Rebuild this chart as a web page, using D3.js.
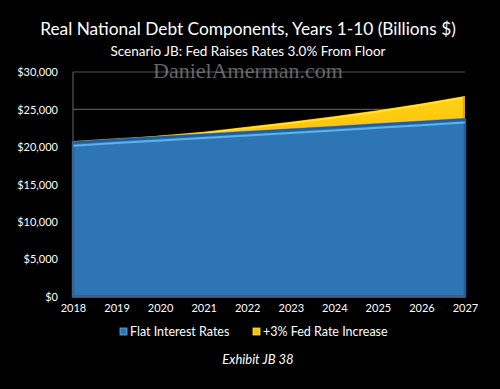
<!DOCTYPE html>
<html><head><meta charset="utf-8">
<script src="https://cdn.jsdelivr.net/npm/d3@7"></script>
<style>html,body{margin:0;padding:0;background:#000;}svg{display:block;}</style>
</head><body>
<svg id="c" width="500" height="389"></svg>
<script>
const years = [2018,2019,2020,2021,2022,2023,2024,2025,2026,2027];
const flatRates = [20550,20900,21250,21580,21920,22260,22600,22950,23300,23650];
const fedIncrease = [0,80,250,450,750,1100,1500,1950,2500,3150];
const yTicks = [0,5000,10000,15000,20000,25000,30000];
const seriesNames = ["Flat Interest Rates","+3% Fed Rate Increase"];
const titleText = "Real National Debt Components, Years 1-10 (Billions $)";
const subtitleText = "Scenario JB:  Fed Raises Rates 3.0% From Floor";
const watermark = "DanielAmerman.com";
const exhibit = "Exhibit JB 38";

const svg = d3.select("#c");
const font = "Lato, 'Open Sans', sans-serif";
svg.append("rect").attr("width",500).attr("height",389).attr("fill","#000");

const x = d3.scalePoint().domain(years).range([73,465]);
const y = d3.scaleLinear().domain([0,30000]).range([296.5,72]);

const defs = svg.append("defs");
const gy = defs.append("linearGradient").attr("id","gy").attr("x1",0).attr("y1",0).attr("x2",0).attr("y2",1);
gy.append("stop").attr("offset","0%").attr("stop-color","#FFD21A");
gy.append("stop").attr("offset","100%").attr("stop-color","#FFC000");

// gridlines
svg.append("g").selectAll("line").data(yTicks.filter(d=>d>0)).join("line")
  .attr("x1",x(2018)).attr("x2",x(2027)).attr("y1",d=>y(d)).attr("y2",d=>y(d))
  .attr("stroke","#555").attr("stroke-width",1.2);

const data = years.map((yr,i)=>({yr, a:flatRates[i], b:flatRates[i]+fedIncrease[i]}));

// yellow area
svg.append("path").datum(data)
  .attr("d", d3.area().x(d=>x(d.yr)).y0(d=>y(d.a)).y1(d=>y(d.b)))
  .attr("fill","url(#gy)");
svg.append("path").datum(data)
  .attr("d", d3.line().x(d=>x(d.yr)).y(d=>y(d.b)+1.5))
  .attr("fill","none").attr("stroke","#FFE24A").attr("stroke-width",1.5);
svg.append("path").datum(data)
  .attr("d", d3.line().x(d=>x(d.yr)).y(d=>y(d.a)-1))
  .attr("fill","none").attr("stroke","#D99A00").attr("stroke-width",1.5);
svg.append("line").attr("x1",x(2027)-1).attr("x2",x(2027)-1)
  .attr("y1",y(data[9].b)).attr("y2",y(data[9].a))
  .attr("stroke","#E0A300").attr("stroke-width",2);

// blue area
svg.append("path").datum(data)
  .attr("d", d3.area().x(d=>x(d.yr)).y0(y(0)).y1(d=>y(d.a)))
  .attr("fill","#2E75B6").attr("stroke","#1E5E9E").attr("stroke-width",2.5);
svg.append("path").datum(data)
  .attr("d", d3.line().x(d=>x(d.yr)).y(d=>y(d.a)+3))
  .attr("fill","none").attr("stroke","#5DB2EA").attr("stroke-width",2);

// axes
svg.append("line").attr("x1",x(2018)).attr("x2",x(2018)).attr("y1",y(30000)).attr("y2",y(0))
  .attr("stroke","#666").attr("stroke-width",1);
svg.append("line").attr("x1",x(2018)).attr("x2",x(2027)).attr("y1",y(0)+0.5).attr("y2",y(0)+0.5)
  .attr("stroke","#666").attr("stroke-width",1);

const yAxis = d3.axisLeft(y).tickValues(yTicks).tickSize(0).tickPadding(15)
  .tickFormat(d=>"$"+d3.format(",")(d));
const gY = svg.append("g").attr("transform",`translate(${x(2018)},0)`).call(yAxis);
gY.select(".domain").remove();
gY.selectAll("text").attr("fill","#fff").attr("font-family",font).attr("font-size",11).attr("dy","0.35em");

const xAxis = d3.axisBottom(x).tickSize(0).tickPadding(8).tickFormat(d3.format("d"));
const gX = svg.append("g").attr("transform",`translate(0,${y(0)})`).call(xAxis);
gX.select(".domain").remove();
gX.selectAll("text").attr("fill","#fff").attr("font-family",font).attr("font-size",11);

// titles
svg.append("text").attr("x",248).attr("y",35).attr("text-anchor","middle")
  .attr("fill","#fff").attr("font-family",font).attr("font-size",17.3).text(titleText);
svg.append("text").attr("x",248).attr("y",56).attr("text-anchor","middle")
  .attr("fill","#fff").attr("font-family",font).attr("font-size",13.5).text(subtitleText);
svg.append("text").attr("x",248).attr("y",78).attr("text-anchor","middle")
  .attr("fill","#888").attr("fill-opacity",0.75).attr("font-family","'Liberation Serif','DejaVu Serif',serif")
  .attr("font-size",22).text(watermark);

// legend
const legend = [
  {name:seriesNames[0], color:"#2E75B6", edge:"#5DB2EA", x:120},
  {name:seriesNames[1], color:"#FFC000", edge:"#FFE24A", x:253}
];
const lg = svg.append("g").selectAll("g").data(legend).join("g")
  .attr("transform",d=>`translate(${d.x},328)`);
lg.append("rect").attr("width",7).attr("height",7).attr("fill",d=>d.color)
  .attr("stroke",d=>d.edge).attr("stroke-width",0.8);
lg.append("text").attr("x",10).attr("y",3.5).attr("dy","0.35em").attr("fill","#fff")
  .attr("font-family",font).attr("font-size",12.5).text(d=>d.name);

svg.append("text").attr("x",258).attr("y",364).attr("text-anchor","middle")
  .attr("fill","#fff").attr("font-family",font).attr("font-style","italic")
  .attr("font-size",13).text(exhibit);
</script>
</body></html>
